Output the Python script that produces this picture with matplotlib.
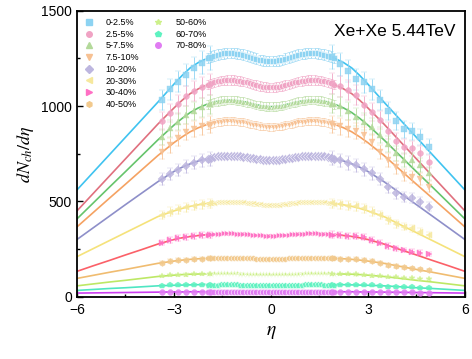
import matplotlib
matplotlib.use("Agg")
import matplotlib.pyplot as plt
from matplotlib.lines import Line2D
import numpy as np

plt.rcParams['font.family'] = ['Liberation Sans', 'DejaVu Sans']
plt.rcParams['mathtext.fontset'] = 'stix'

labels = ["0-2.5%", "2.5-5%", "5-7.5%", "7.5-10%", "10-20%", "20-30%",
          "30-40%", "40-50%", "50-60%", "60-70%", "70-80%"]
marker_colors = ["#8dd3f2", "#f0a3c4", "#b3d99a", "#f7c193", "#bdb6df", "#f6e89d",
                 "#ff6fc4", "#f2c98c", "#cdf08a", "#5ef2c0", "#e07cf2"]
line_colors = ["#3fc3f0", "#e0707e", "#66c46c", "#f5a262", "#8e8fc9", "#f5e27a",
               "#fb6068", "#f0bc70", "#bde865", "#4fe6c2", "#cc3ff0"]
markers = ["s", "o", "^", "v", "D", "<", ">", "h", "*", "p", "o"]

# model curve, |eta| nodes (symmetric)
eta_curve = [0, 0.25, 0.5, 0.75, 1.0, 1.25, 1.5, 1.75, 2.0, 2.25, 2.5, 2.75,
             3.0, 3.5, 4.0, 4.5, 5.0, 5.5, 6.0]
curve_0_2p5 = [1236, 1240, 1251, 1264, 1274, 1278, 1277, 1267, 1248, 1228, 1200, 1160, 1115, 1020, 928, 836, 744, 652, 560]
curve_2p5_5 = [1099, 1102, 1111, 1124, 1133, 1136, 1135, 1126, 1110, 1090, 1065, 1030, 990, 905, 814, 723, 632, 541, 450]
curve_5_7p5 = [997, 1000, 1009, 1020, 1028, 1031, 1030, 1022, 1008, 990, 966, 935, 900, 822, 739, 656, 574, 491, 408]
curve_7p5_10 = [891, 894, 902, 912, 919, 921, 920, 913, 902, 886, 865, 838, 808, 740, 665, 590, 516, 441, 366]
curve_10_20 = [716, 718, 724, 732, 738, 740, 739, 734, 724, 712, 697, 679, 657, 603, 543, 483, 422, 361, 300]
curve_20_30 = [482, 483, 487, 492, 496, 498, 498, 494, 488, 482, 474, 463, 450, 420, 378, 336, 294, 252, 210]
curve_30_40 = [321, 322, 324, 327, 330, 332, 332, 329, 325, 321, 316, 309, 300, 276, 247, 219, 190, 162, 133]
curve_40_50 = [198, 199, 200, 202, 204, 205, 205, 203, 201, 199, 196, 192, 187, 175, 159, 143, 128, 112, 96]
curve_50_60 = [117, 117, 118, 120, 122, 123, 123, 122, 120, 119, 118, 116, 113, 106, 96, 86, 77, 67, 57]
curve_60_70 = [62, 62, 63, 64, 65, 65, 65, 64, 64, 63, 62, 61, 60, 57, 52, 47, 43, 38, 33]
curve_70_80 = [25, 25, 25, 26, 26, 26, 26, 26, 26, 26, 26, 25, 25, 24, 23, 22, 21, 20, 19]
curves = [curve_0_2p5, curve_2p5_5, curve_5_7p5, curve_7p5_10, curve_10_20, curve_20_30,
          curve_30_40, curve_40_50, curve_50_60, curve_60_70, curve_70_80]

# central data (|eta| < 2, symmetric), values at +eta
eta_mid = [0.05, 0.15, 0.25, 0.35, 0.45, 0.55, 0.65, 0.75, 0.85, 0.95,
           1.05, 1.15, 1.25, 1.35, 1.45, 1.55, 1.65, 1.75, 1.85, 1.95]
mid_0_2p5 = [1236, 1237, 1240, 1243, 1249, 1254, 1259, 1264, 1269, 1273, 1275, 1278, 1278, 1278, 1277, 1274, 1270, 1265, 1259, 1251]
mid_2p5_5 = [1099, 1100, 1102, 1105, 1110, 1114, 1119, 1124, 1128, 1131, 1134, 1136, 1136, 1136, 1135, 1133, 1129, 1125, 1119, 1112]
mid_5_7p5 = [997, 998, 1000, 1003, 1007, 1011, 1016, 1020, 1024, 1027, 1029, 1031, 1031, 1031, 1030, 1028, 1025, 1021, 1016, 1009]
mid_7p5_10 = [891, 892, 893, 896, 900, 903, 907, 911, 915, 917, 919, 921, 921, 921, 920, 918, 915, 912, 907, 902]
mid_10_20 = [716, 716, 718, 720, 723, 726, 729, 732, 735, 737, 739, 740, 740, 740, 739, 738, 736, 733, 729, 724]
mid_20_30 = [482, 482, 483, 485, 487, 489, 491, 493, 495, 496, 497, 498, 498, 498, 498, 497, 495, 493, 491, 488]
mid_30_40 = [321, 321, 322, 323, 324, 326, 327, 328, 330, 331, 331, 332, 332, 332, 332, 331, 330, 329, 327, 325]
mid_40_50 = [198, 198, 199, 199, 200, 201, 202, 203, 204, 204, 205, 205, 205, 205, 205, 204, 204, 203, 202, 201]
mid_50_60 = [117, 117, 117, 118, 118, 119, 119, 120, 121, 121, 122, 122, 123, 123, 123, 122, 122, 122, 121, 120]
mid_60_70 = [62, 62, 62, 62, 63, 63, 63, 64, 64, 64, 65, 65, 65, 65, 65, 65, 64, 64, 64, 63]
mid_70_80 = [25, 25, 25, 25, 25, 25, 25, 26, 26, 26, 26, 26, 26, 26, 26, 26, 26, 26, 25, 25]
mids = [mid_0_2p5, mid_2p5_5, mid_5_7p5, mid_7p5_10, mid_10_20, mid_20_30,
        mid_30_40, mid_40_50, mid_50_60, mid_60_70, mid_70_80]

# forward data
eta_left = [-3.375, -3.125, -2.875, -2.625, -2.375, -2.125, -1.875]
eta_right = [1.875, 2.125, 2.375, 2.625, 2.875, 3.125, 3.375, 3.625, 3.875,
             4.125, 4.375, 4.625, 4.875]
left_vals = [
    [1032, 1088, 1128, 1165, 1200, 1228, 1252],
    [921, 965, 1009, 1052, 1080, 1100, 1115],
    [839, 883, 918, 953, 975, 995, 1010],
    [760, 795, 830, 865, 880, 893, 903],
    [616, 643, 664, 685, 703, 715, 724],
    [428, 446, 458, 468, 478, 484, 489],
    [283, 297, 306, 313, 318, 322, 325],
    [178, 187, 192, 195, 198, 200, 201],
    [108, 112, 114, 116, 118, 119, 120],
    [57, 59, 61, 62, 63, 63, 64],
    [25, 25, 25, 26, 26, 26, 26],
]
right_vals = [
    [1258, 1220, 1185, 1140, 1124, 1088, 1032, 974, 921, 879, 868, 839, 787],
    [1120, 1105, 1084, 1058, 1005, 970, 927, 871, 818, 787, 778, 752, 708],
    [1012, 998, 975, 945, 918, 892, 848, 801, 752, 717, 717, 691, 647],
    [905, 893, 882, 870, 850, 813, 760, 717, 679, 638, 629, 616, 577],
    [726, 715, 702, 690, 668, 647, 616, 574, 542, 524, 516, 498, 472],
    [490, 485, 478, 474, 463, 446, 428, 402, 381, 367, 358, 341, 324],
    [326, 323, 320, 317, 311, 297, 283, 266, 254, 245, 236, 231, 224],
    [202, 200, 199, 198, 192, 187, 178, 166, 161, 154, 149, 145, 140],
    [120, 120, 119, 117, 114, 111, 108, 105, 102, 100, 96, 93, 91],
    [64, 63, 63, 62, 61, 59, 56, 53, 52, 49, 49, 47, 44],
    [26, 26, 26, 26, 26, 25, 25, 25, 24, 24, 23, 22, 21],
]

fig = plt.figure(figsize=(4.72, 3.59), dpi=100)
ax = fig.add_axes([0.163, 0.1735, 0.822, 0.7965])

ec = np.array(eta_curve)
em = np.array(eta_mid)
for i in range(len(labels)):
    cv = np.array(curves[i])
    ax.plot(np.concatenate([-ec[::-1], ec[1:]]), np.concatenate([cv[::-1], cv[1:]]),
            color=line_colors[i], lw=1.2, zorder=2)

    mv = np.array(mids[i])
    xm = np.concatenate([-em[::-1], em])
    ym = np.concatenate([mv[::-1], mv])
    ax.errorbar(xm, ym, yerr=0.022 * ym, fmt=markers[i], ms=4.6, color=marker_colors[i],
                mec="white", mew=0.4, ecolor=marker_colors[i], elinewidth=0.6,
                capsize=1.5, capthick=0.6, alpha=0.9, zorder=3)

    xo = np.array(eta_left + eta_right)
    yo = np.array(left_vals[i] + right_vals[i])
    ax.errorbar(xo, yo, yerr=0.05 * yo, fmt=markers[i], ms=4.2, color=marker_colors[i],
                mec=marker_colors[i], mew=0.3, ecolor=marker_colors[i], elinewidth=0.7,
                capsize=2.2, capthick=0.7, alpha=0.85, zorder=3)

ax.set_xlim(-6, 6)
ax.set_ylim(0, 1500)
ax.set_xticks([-6, -3, 0, 3, 6])
ax.set_xticks([-4.5, -1.5, 1.5, 4.5], minor=True)
ax.set_yticks([0, 500, 1000, 1500])
ax.set_yticks([250, 750, 1250], minor=True)
ax.tick_params(which="both", direction="in", top=False, right=False, labelsize=10, width=1)
ax.tick_params(which="major", length=4)
ax.tick_params(which="minor", length=2.5)
ax.tick_params(axis="x", pad=4.5)
for s in ax.spines.values():
    s.set_linewidth(1.3)

ax.set_xlabel(r"$\eta$", fontsize=14, labelpad=5)
ax.set_ylabel(r"$dN_{ch}/d\eta$", fontsize=13, labelpad=4)

ax.text(0.975, 0.955, "Xe+Xe 5.44TeV", transform=ax.transAxes, ha="right", va="top",
        fontsize=12.5)

# legend: 8 entries in first column, 3 in second
handles = [Line2D([], [], linestyle="none", marker=markers[i], color=marker_colors[i],
                  mec=marker_colors[i], ms=4) for i in range(len(labels))]
blank = Line2D([], [], linestyle="none")
leg_handles = handles + [blank] * 5
leg_labels = labels + [""] * 5
ax.legend(leg_handles, leg_labels, loc="upper left", ncol=2, frameon=False, fontsize=6.5,
          labelspacing=0.3, handlelength=1.0, handletextpad=1.4, columnspacing=1.6,
          bbox_to_anchor=(0.0, 1.0), borderaxespad=0.4)

fig.savefig("out.png", dpi=100)
